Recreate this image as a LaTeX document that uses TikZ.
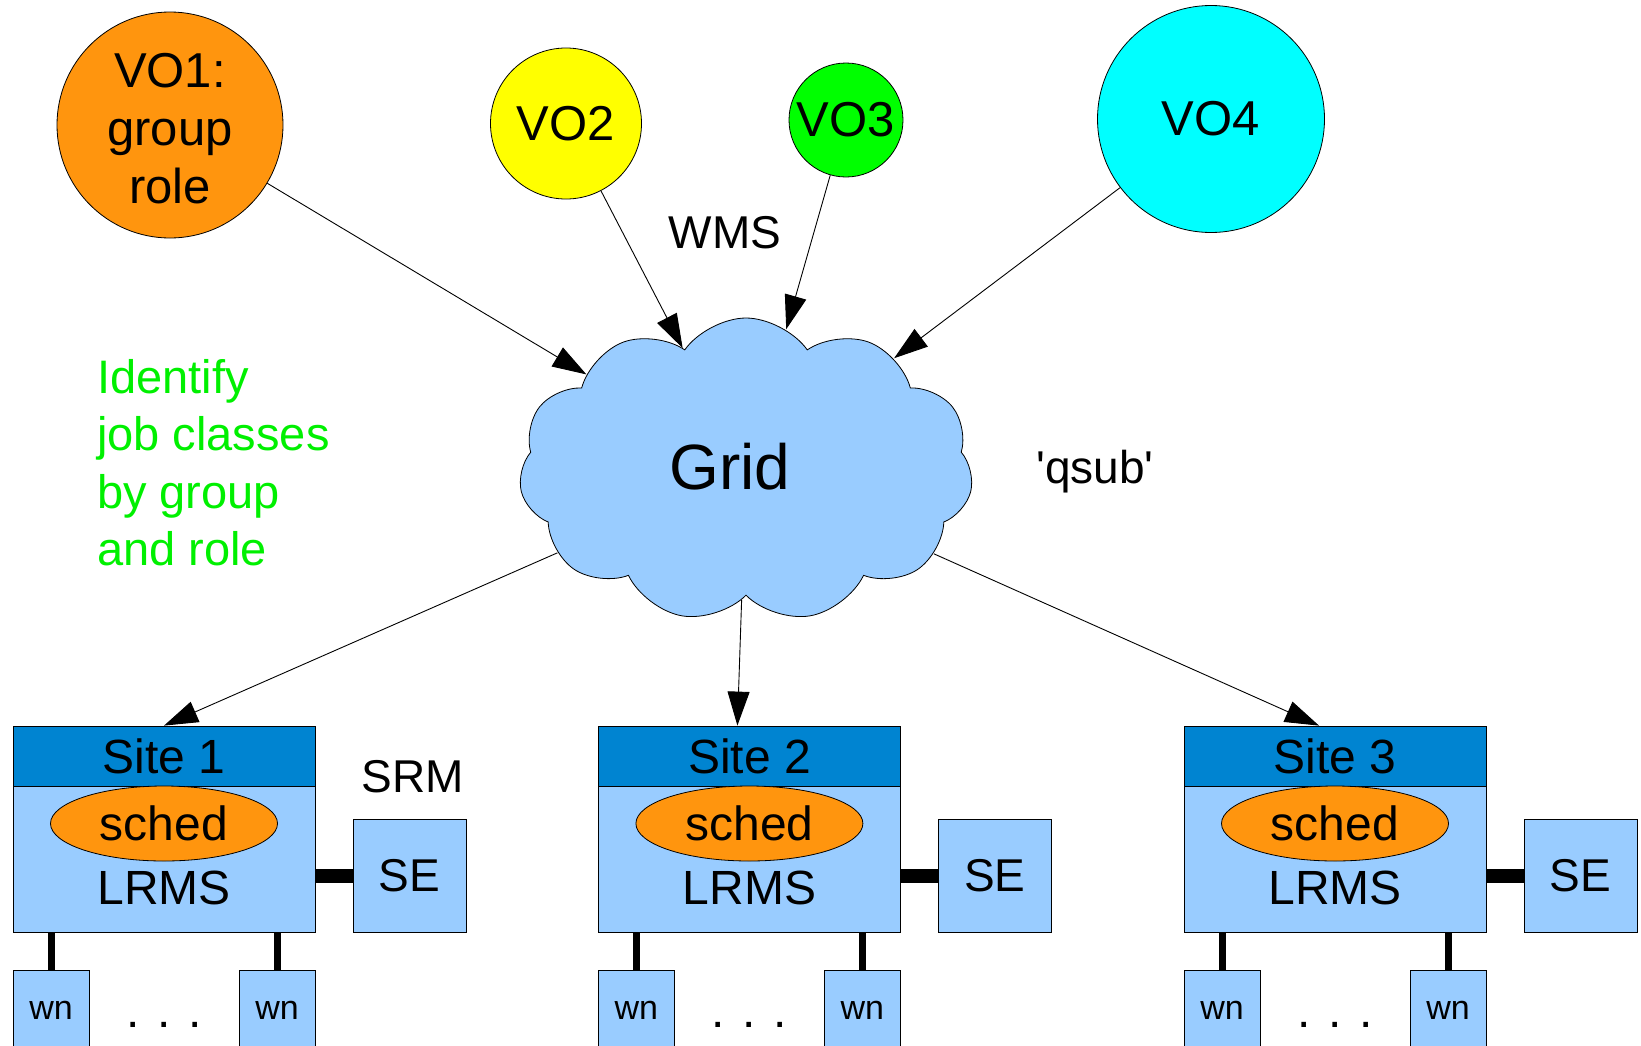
\documentclass[tikz,border=0pt]{standalone}
\usepackage{fontspec}
\setmainfont{Liberation Sans}
\usetikzlibrary{shapes.symbols,shapes.geometric,arrows.meta}
\definecolor{vorange}{HTML}{FF950E}
\definecolor{vyellow}{HTML}{FFFF00}
\definecolor{vgreen}{HTML}{00FF00}
\definecolor{vcyan}{HTML}{00FFFF}
\definecolor{lblue}{HTML}{99CCFF}
\definecolor{hblue}{HTML}{0084D1}
\definecolor{tgreen}{HTML}{00F000}
\newcommand{\myfs}[2]{\fontsize{#1}{#2}\selectfont}
\begin{document}
\begin{tikzpicture}[x=1pt,y=-1pt,
  vo/.style={circle,draw,line width=0.8pt,inner sep=0pt,align=center,font=\myfs{49}{58}},
  conn/.style={line width=0.9pt,-{Triangle[length=34pt,width=22pt]}},
  lbl/.style={inner sep=0pt,font=\myfs{46}{57}},
  head/.style={rectangle,draw,fill=hblue,line width=0.8pt,minimum width=302pt,minimum height=60pt,inner sep=0pt,font=\myfs{48}{55}},
  body/.style={rectangle,draw,fill=lblue,line width=0.8pt,minimum width=302pt,minimum height=147pt,inner sep=0pt},
  schedbox/.style={ellipse,draw,fill=vorange,line width=0.8pt,minimum width=227pt,minimum height=75pt,inner sep=0pt,font=\myfs{48}{55}},
  sebox/.style={rectangle,draw,fill=lblue,line width=0.8pt,minimum width=113pt,minimum height=113pt,inner sep=0pt,font=\myfs{46}{55}},
  wnbox/.style={rectangle,draw,fill=lblue,line width=0.8pt,minimum width=76pt,minimum height=80pt,inner sep=0pt,anchor=north,font=\myfs{34}{40}},
  hbar/.style={line width=14pt},
  vbar/.style={line width=7pt},
]
\useasboundingbox (0,0) rectangle (1641,1045);
\clip (0,0) rectangle (1641,1045);
\fill[white] (0,0) rectangle (1641,1045);

% VO circles
\node[vo,fill=vorange,minimum size=226pt] (vo1) at (170,125) {\strut VO1:\\group\\role};
\node[vo,fill=vyellow,minimum size=151pt] (vo2) at (566,123.5) {VO2};
\node[vo,fill=vgreen,minimum size=114pt] (vo3) at (846,120) {VO3};
\node[vo,fill=vcyan,minimum size=227pt] (vo4) at (1211,119) {VO4};

% Grid cloud
\node[cloud,cloud puffs=11,cloud puff arc=110,cloud ignores aspect,draw,fill=lblue,line width=0.8pt,
      minimum width=454pt,minimum height=304pt,inner sep=0pt] (grid) at (746,470) {};
\node[inner sep=0pt,anchor=base,font=\myfs{64}{70}] (gridlbl) at (730,489) {Grid};

% labels
\node[lbl,anchor=base] (wms) at (725,248) {WMS};
\node[lbl,anchor=base] (qsub) at (1095,483) {\textquotesingle qsub\textquotesingle};
\node[lbl,anchor=base] (srm) at (413,792) {SRM};
\node[lbl,anchor=north west,align=left,text=tgreen,font=\myfs{47}{57.5}] (ident) at (97,359)
  {Identify\\job classes\\by group\\and role};

% sites
\foreach \i/\cx in {1/164, 2/749.4, 3/1335}{
  \node[body] (s\i b) at (\cx,858.5) {};
  \node[head] (s\i h) at (\cx,756) {Site \i};
  \node[schedbox] (sch\i) at (\cx,823.5) {\raisebox{-3pt}{sched}};
  \node[inner sep=0pt,anchor=base,font=\myfs{48}{55}] (lrms\i) at (\cx,904) {LRMS};
  \node[sebox] (se\i) at (\cx+245.5,875.5) {SE};
  \node[wnbox] (wna\i) at (\cx-151+38,970) {wn};
  \node[wnbox] (wnb\i) at (\cx+151-38,970) {wn};
  \node[inner sep=0pt,anchor=base,font=\myfs{48}{55}] (dots\i) at (\cx,1027) {. . .};
  \draw[hbar] (se\i.west) -- (se\i.west -| s\i b.east);
  \draw[vbar] (wna\i.north) -- (wna\i.north |- s\i b.south);
  \draw[vbar] (wnb\i.north) -- (wnb\i.north |- s\i b.south);
}

% connectors
\draw[conn] (vo1) -- (grid);
\draw[conn] (vo2) -- (grid);
\draw[conn] (vo3) -- (grid);
\draw[conn] (vo4) -- (grid);
\draw[conn] (grid) -- (s1h.north);
\draw[conn] (grid) -- ([xshift=-12pt]s2h.north);
\draw[conn] (grid) -- ([xshift=-16pt]s3h.north);
\end{tikzpicture}
\end{document}
